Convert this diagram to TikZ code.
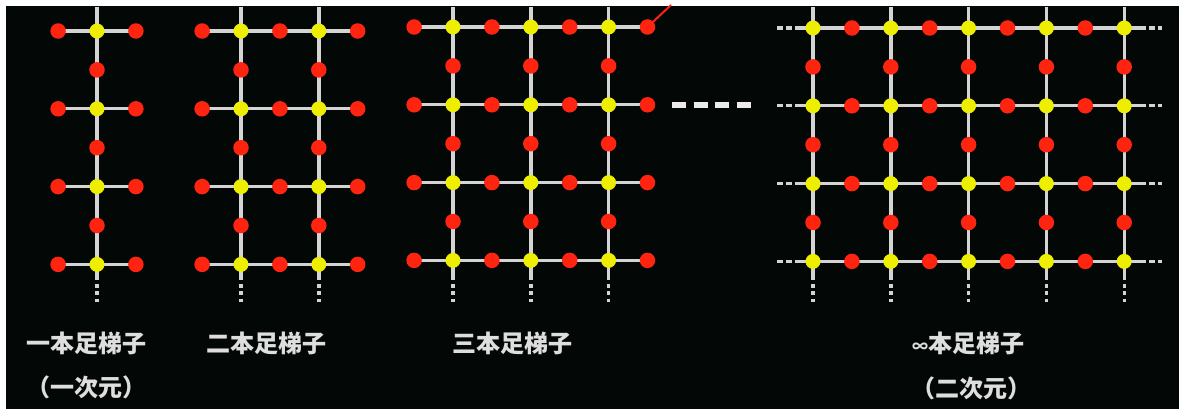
\documentclass[tikz,border=0pt]{standalone}
\usepackage{fontspec}
\newfontfamily\cjk{Noto Sans CJK JP}
\definecolor{bgc}{HTML}{030806}
\definecolor{reddot}{HTML}{FF2410}
\definecolor{yeldot}{HTML}{EEEE00}
\definecolor{rung}{HTML}{D4D4D4}
\definecolor{labc}{HTML}{DEDEDE}
\pgfdeclarelayer{back}\pgfdeclarelayer{bg}\pgfsetlayers{back,bg,main}
\tikzset{
 rdot/.style={circle,fill=reddot,inner sep=0pt,minimum size=15.5pt},
 ydot/.style={circle,fill=yeldot,inner sep=0pt,minimum size=15pt},
 rail/.style={draw=rung,line width=3.4pt},
 tail/.style={draw=rung,line width=3.4pt,dash pattern=on 4pt off 3.5pt},
 ext/.style={draw=rung,line width=3.4pt,dash pattern=on 6pt off 3pt},
 sep/.style={draw=white!92!black,line width=6.5pt,dash pattern=on 14pt off 7.5pt},
 slash/.style={draw=reddot,line width=2pt},
 lab/.style={text=labc,font=\cjk\bfseries\fontsize{24}{28}\selectfont,inner sep=0pt},
}
\def\sp{77.8}
% #1 name, #2 x0, #3 y0, #4 number of columns, #5 0 = red ends, 1 = dashed ends
\newcommand\ladder[5]{%
 \pgfmathtruncatemacro\lc{#4-1}%
 \foreach \c in {0,...,\lc}{%
   \pgfmathsetmacro\xx{#2+\c*\sp}%
   \coordinate (#1-t-\c) at (\xx,7);
   \coordinate (#1-s-\c) at (\xx,276);
   \coordinate (#1-e-\c) at (\xx,302);
   \foreach \r in {0,...,3}{%
     \node[ydot] (#1-y-\c-\r) at (\xx,{#3+\r*\sp}) {};
   }
   \foreach \r in {0,1,2}{%
     \node[rdot] (#1-v-\c-\r) at (\xx,{#3+(\r+0.5)*\sp}) {};
   }
   \begin{pgfonlayer}{bg}
   \draw[rail] (#1-t-\c) -- (#1-s-\c);
   \draw[tail] (#1-s-\c) -- (#1-e-\c);
   \end{pgfonlayer}
 }%
 \foreach \r in {0,...,3}{%
   \pgfmathsetmacro\yy{#3+\r*\sp}%
   \ifnum#5=0
     \foreach \k in {0,...,#4}{%
       \node[rdot] (#1-h-\k-\r) at ({#2+(\k-0.5)*\sp},\yy) {};
     }
     \begin{pgfonlayer}{bg}
     \draw[rail] (#1-h-0-\r.center) -- (#1-h-#4-\r.center);
     \end{pgfonlayer}
   \else
     \foreach \k in {1,...,\lc}{%
       \node[rdot] (#1-h-\k-\r) at ({#2+(\k-0.5)*\sp},\yy) {};
     }
     \coordinate (#1-ll-\r) at ({#2-36},\yy);
     \coordinate (#1-l-\r) at ({#2-17},\yy);
     \coordinate (#1-r-\r) at ({#2+\lc*\sp+16},\yy);
     \coordinate (#1-rr-\r) at ({#2+\lc*\sp+38},\yy);
     \begin{pgfonlayer}{bg}
     \draw[rail] (#1-l-\r) -- (#1-r-\r);
     \draw[ext] (#1-ll-\r) -- (#1-l-\r);
     \draw[ext] (#1-r-\r) -- (#1-rr-\r);
     \end{pgfonlayer}
   \fi
 }%
}
\begin{document}
\begin{tikzpicture}[x=1pt,y=-1pt]
\useasboundingbox (0,0) rectangle (1179,409);
\begin{pgfonlayer}{back}
\fill[white] (0,0) rectangle (1179,409);
\fill[bgc] (6,6) rectangle (1179,409);
\end{pgfonlayer}
\ladder{La}{97}{31}{1}{0}
\ladder{Lb}{241}{31}{2}{0}
\ladder{Lc}{453}{27}{3}{0}
\ladder{Ld}{813}{28}{5}{1}
\coordinate (slashend) at (671,5);
\begin{pgfonlayer}{bg}
\draw[slash] (Lc-h-3-0.center) -- (slashend);
\end{pgfonlayer}
\coordinate (d1) at (672,105);
\coordinate (d2) at (752,105);
\draw[sep] (d1) -- (d2);
\node[lab] (t1) at (87,343) {一本足梯子};
\node[lab] (t1b) at (87,387) {（一次元）};
\node[lab] (t2) at (266,343) {二本足梯子};
\node[lab] (t3) at (512,343) {三本足梯子};
\node[lab] (t4) at (968,343) {{\fontsize{16}{20}\selectfont ∞}本足梯子};
\node[lab] (t4b) at (971,388) {（二次元）};
\end{tikzpicture}
\end{document}
